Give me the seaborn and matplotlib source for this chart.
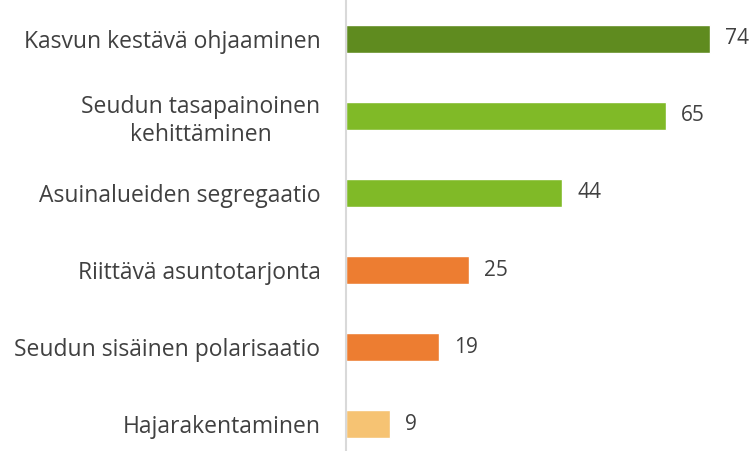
import matplotlib
matplotlib.use("Agg")
import pandas as pd
import seaborn as sns
import matplotlib.pyplot as plt

categories = ["Kasvun kestävä ohjaaminen", "Seudun tasapainoinen\nkehittäminen",
              "Asuinalueiden segregaatio", "Riittävä asuntotarjonta",
              "Seudun sisäinen polarisaatio", "Hajarakentaminen"]
values = [74, 65, 44, 25, 19, 9]
colors = ["#5F8B1F", "#80BA27", "#80BA27", "#ED7D31", "#ED7D31", "#F6C373"]

df = pd.DataFrame({"cat": categories, "val": values})

sns.set_style("white")
plt.rcParams['font.family'] = ['Open Sans', 'DejaVu Sans']

fig = plt.figure(figsize=(7.55, 4.51), dpi=100)
ax = fig.add_axes([345.5 / 755, 0, 1 - 345.5 / 755, 1])
sns.barplot(data=df, y="cat", x="val", hue="cat", palette=colors,
            legend=False, width=0.36, saturation=1, ax=ax)

ax.set_xlim(0, 83.1)
ax.set_ylim(5.35, -0.506)
ax.set_xlabel("")
ax.set_ylabel("")
ax.set_xticks([])
for side in ["top", "right", "bottom"]:
    ax.spines[side].set_visible(False)
ax.spines["left"].set_color("#D9D9D9")
ax.spines["left"].set_linewidth(1.5)
ax.tick_params(axis="y", length=0, pad=18, labelsize=16.5, labelcolor="#404040")
for lab in ax.get_yticklabels():
    lab.set_multialignment("center")
    lab.set_linespacing(1.25)

for c in ax.containers:
    ax.bar_label(c, padding=11, fontsize=15, color="#404040")

fig.savefig("out.png", dpi=100)
